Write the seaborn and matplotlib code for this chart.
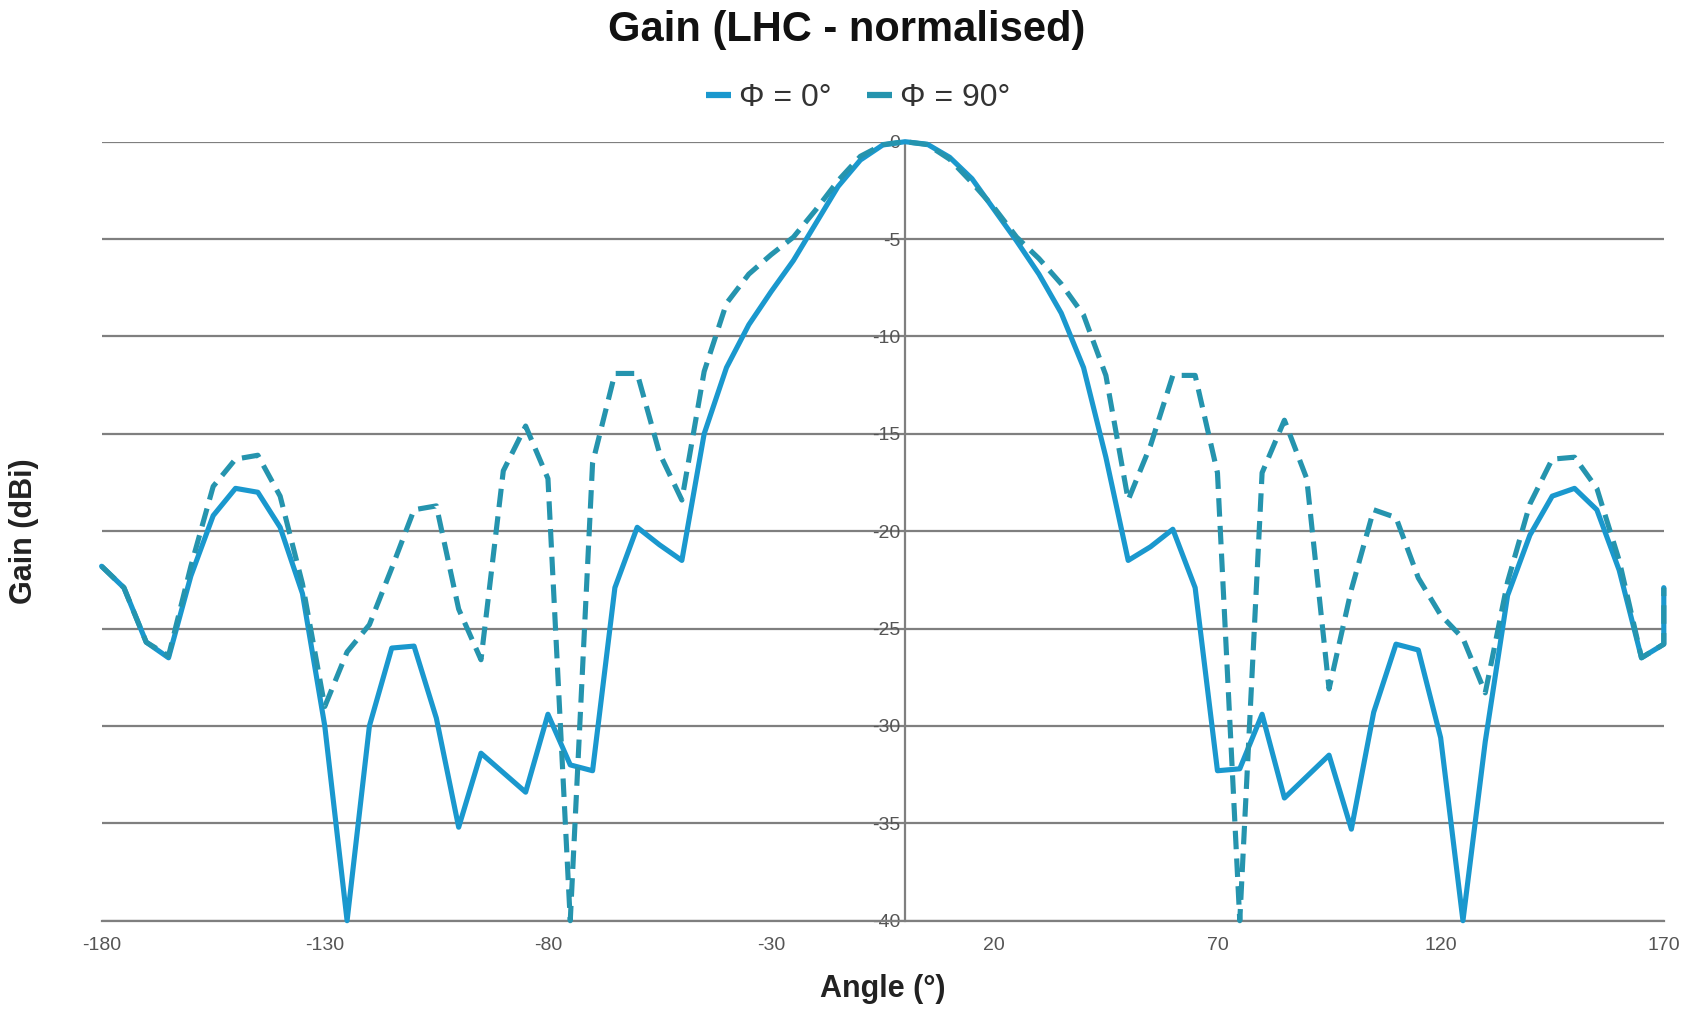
import matplotlib
matplotlib.use("Agg")
import matplotlib.pyplot as plt
import seaborn as sns
import pandas as pd
from matplotlib.lines import Line2D

# ---------------- data ----------------
angles = [-180, -175, -170, -165, -160, -155, -150, -145, -140, -135,
          -130, -125, -120, -115, -110, -105, -100, -95, -90, -85,
          -80, -75, -70, -65, -60, -55, -50, -45, -40, -35,
          -30, -25, -20, -15, -10, -5, 0, 5, 10, 15,
          20, 25, 30, 35, 40, 45, 50, 55, 60, 65,
          70, 75, 80, 85, 90, 95, 100, 105, 110, 115,
          120, 125, 130, 135, 140, 145, 150, 155, 160, 165,
          170, 170]

gain_phi0 = [-21.8, -22.9, -25.7, -26.5, -22.3, -19.2, -17.8, -18.0, -19.8, -23.2,
             -30.0, -40.0, -30.0, -26.0, -25.9, -29.6, -35.2, -31.4, -32.4, -33.4,
             -29.4, -32.0, -32.3, -22.9, -19.8, -20.7, -21.5, -15.0, -11.6, -9.4,
             -7.7, -6.1, -4.2, -2.3, -0.94, -0.17, 0.0, -0.13, -0.8, -1.9,
             -3.5, -5.1, -6.8, -8.8, -11.6, -16.2, -21.5, -20.8, -19.9, -22.9,
             -32.3, -32.2, -29.4, -33.7, -32.6, -31.5, -35.3, -29.3, -25.8, -26.1,
             -30.6, -40.0, -30.8, -23.3, -20.2, -18.2, -17.8, -18.9, -22.0, -26.5,
             -25.8, -22.9]

gain_phi90 = [-21.8, -22.9, -25.7, -26.4, -21.8, -17.7, -16.3, -16.1, -18.2, -22.7,
              -29.0, -26.2, -24.8, -21.9, -18.9, -18.7, -24.0, -26.6, -16.9, -14.6,
              -17.3, -40.0, -16.5, -11.9, -11.9, -16.0, -18.4, -11.8, -8.3, -6.8,
              -5.8, -4.9, -3.5, -2.0, -0.75, -0.15, 0.0, -0.15, -0.9, -2.1,
              -3.4, -4.9, -6.0, -7.3, -8.9, -12.0, -18.4, -15.6, -12.0, -12.0,
              -17.0, -40.0, -17.0, -14.3, -17.3, -28.1, -23.0, -18.9, -19.3, -22.4,
              -24.3, -25.5, -28.3, -22.6, -18.6, -16.3, -16.2, -17.8, -21.5, -26.5,
              -25.8, -22.9]

series_labels = ["\u03a6 = 0\u00b0", "\u03a6 = 90\u00b0"]
x_ticks = [-180, -130, -80, -30, 20, 70, 120, 170]
y_ticks = [0, -5, -10, -15, -20, -25, -30, -35, -40]

title = "Gain (LHC - normalised)"
x_label = "Angle (\u00b0)"
y_label = "Gain (dBi)"

# ---------------- style ----------------
sns.set_theme(style="white")
plt.rcParams["font.family"] = ["Liberation Sans", "DejaVu Sans"]
plt.rcParams["axes.unicode_minus"] = False

c0 = "#1A98CE"
c1 = "#2594AE"
grid_c = "#7f7f7f"

W, H = 1694, 1010
fig = plt.figure(figsize=(W / 100, H / 100), dpi=100)
left_px, right_px, top_px, bottom_px = 101.6, 1663.8, 141.7, 920.7
ax = fig.add_axes([left_px / W, (H - bottom_px) / H,
                   (right_px - left_px) / W, (bottom_px - top_px) / H])

n = len(angles)
df = pd.DataFrame({
    "angle": angles + angles,
    "gain": gain_phi0 + gain_phi90,
    "series": [series_labels[0]] * n + [series_labels[1]] * n,
})

sns.lineplot(data=df, x="angle", y="gain", hue="series", style="series",
             palette={series_labels[0]: c0, series_labels[1]: c1},
             dashes={series_labels[0]: "", series_labels[1]: (3.6, 1.8)},
             estimator=None, sort=False, legend=False, ax=ax,
             linewidth=3.7, clip_on=False, zorder=3,
             dash_capstyle="butt", solid_joinstyle="round")

ax.set_xlim(-180, 170)
ax.set_ylim(-40, 0)
ax.set_xticks(x_ticks)
ax.set_xticklabels([str(t) for t in x_ticks])
ax.set_yticks(y_ticks)
ax.set_yticklabels([str(t) for t in y_ticks])

ax.set_axisbelow(True)
ax.yaxis.grid(True, color=grid_c, linewidth=1.6)
ax.xaxis.grid(False)

for s in ["top", "right"]:
    ax.spines[s].set_visible(False)
ax.spines["left"].set_position(("data", 0))
for s in ["left", "bottom"]:
    ax.spines[s].set_color(grid_c)
    ax.spines[s].set_linewidth(1.6)

ax.tick_params(axis="y", direction="inout", length=7, width=1.6, color=grid_c,
               labelsize=14, labelcolor="#555555", pad=0)
ax.tick_params(axis="x", direction="out", length=7, width=1.6, color=grid_c,
               labelsize=14, labelcolor="#555555", pad=5)

ax.set_xlabel(x_label, fontsize=22, fontweight="bold", color="#222222", va="center")
ax.xaxis.set_label_coords(0.5, -(988.6 - bottom_px) / (bottom_px - top_px))
ax.set_ylabel(y_label, fontsize=22, fontweight="bold", color="#222222", va="center")
ax.yaxis.set_label_coords((24 - left_px) / (right_px - left_px), 0.5)

fig.text(0.5, 1 - 30 / H, title, ha="center", va="center",
         fontsize=30, fontweight="bold", color="#111111")

handles = [Line2D([0], [0], color=c0, lw=4.5, solid_capstyle="butt"),
           Line2D([0], [0], color=c1, lw=4.5, solid_capstyle="butt")]
fig.legend(handles, series_labels, loc="center",
           bbox_to_anchor=(858 / W, 1 - 98 / H), ncol=2, frameon=False,
           fontsize=23, handlelength=0.8, handletextpad=0.25,
           columnspacing=1.1, labelcolor="#333333")

fig.savefig("out.png", dpi=100)
